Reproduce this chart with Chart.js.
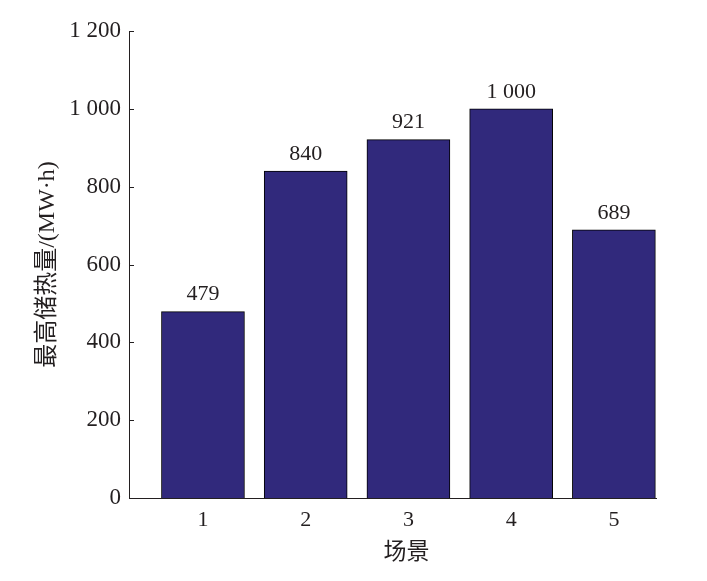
<!DOCTYPE html>
<html>
<head>
<meta charset="utf-8">
<script src="https://cdn.jsdelivr.net/npm/chart.js@4/dist/chart.umd.min.js"></script>
<style>
  html, body { margin: 0; padding: 0; background: #ffffff; }
  #wrap { position: relative; width: 707px; height: 581px; }
</style>
</head>
<body>
<div id="wrap"><canvas id="c"></canvas></div>
<script>
// ---- data ----
const categories = ['1', '2', '3', '4', '5'];
const storageValues = [479, 840, 921, 1000, 689];
const yTicks = [0, 200, 400, 600, 800, 1000, 1200];
const xTitle = '场景';
const yTitle = '最高储热量/(MW·h)';

const fmt = v => String(v).replace(/\B(?=(\d{3})+(?!\d))/g, ' ');
const FONT = "'Liberation Serif', 'Times New Roman', 'Noto Sans CJK SC', serif";
const INK = '#231f20';

const innerTicks = {
  id: 'innerTicks',
  afterDatasetsDraw(chart) {
    const ctx = chart.ctx, y = chart.scales.y, x = chart.scales.x;
    ctx.save();
    ctx.strokeStyle = INK;
    ctx.lineWidth = 1;
    yTicks.forEach(v => {
      const py = Math.round(y.getPixelForValue(v)) + 0.5;
      ctx.beginPath();
      ctx.moveTo(x.left, py);
      ctx.lineTo(x.left + 5, py);
      ctx.stroke();
    });
    ctx.restore();
  }
};

const valueLabels = {
  id: 'valueLabels',
  afterDatasetsDraw(chart) {
    const ctx = chart.ctx;
    const meta = chart.getDatasetMeta(0);
    ctx.save();
    ctx.fillStyle = INK;
    ctx.font = '22px ' + FONT;
    ctx.textAlign = 'center';
    ctx.textBaseline = 'bottom';
    meta.data.forEach((bar, i) => {
      ctx.fillText(fmt(storageValues[i]), bar.x, bar.y - 6);
    });
    // x-axis title, centred under the middle category
    const x = chart.scales.x;
    ctx.font = '23px ' + FONT;
    ctx.textBaseline = 'middle';
    ctx.fillText(xTitle, x.getPixelForValue(Number(categories[2])) - 2, 553);
    ctx.restore();
  }
};

new Chart(document.getElementById('c'), {
  type: 'bar',
  data: {
    datasets: [{
      data: categories.map((c, i) => ({ x: Number(c), y: storageValues[i] })),
      backgroundColor: '#31297c',
      borderColor: '#000000',
      borderWidth: 1,
      barThickness: 83
    }]
  },
  options: {
    responsive: true,
    maintainAspectRatio: false,
    animation: false,
    layout: { padding: { top: 31, right: 51, left: 0, bottom: 0 } },
    plugins: { legend: { display: false }, tooltip: { enabled: false } },
    scales: {
      x: {
        type: 'linear',
        offset: false,
        min: 0.28,
        max: 5.41,
        afterBuildTicks: s => { s.ticks = categories.map(c => ({ value: Number(c) })); },
        afterFit: s => { s.height = 83; },
        grid: { display: false, drawTicks: false, offset: false },
        border: { display: true, color: INK, width: 1 },
        ticks: {
          padding: 9,
          color: INK,
          font: { family: FONT, size: 22 },
          callback: v => categories[v - 1]
        },
        title: { display: false }
      },
      y: {
        min: 0,
        max: 1200,
        afterBuildTicks: s => { s.ticks = yTicks.map(v => ({ value: v })); },
        afterFit: s => { s.width = 129; },
        grid: { display: false, drawTicks: false },
        border: { display: true, color: INK, width: 1 },
        ticks: {
          padding: 8,
          color: INK,
          font: { family: FONT, size: 23 },
          callback: v => fmt(v)
        },
        title: {
          display: true,
          text: yTitle,
          color: INK,
          font: { family: FONT, size: 24 },
          padding: { top: 33, bottom: 0 }
        }
      }
    }
  },
  plugins: [innerTicks, valueLabels]
});
</script>
</body>
</html>
